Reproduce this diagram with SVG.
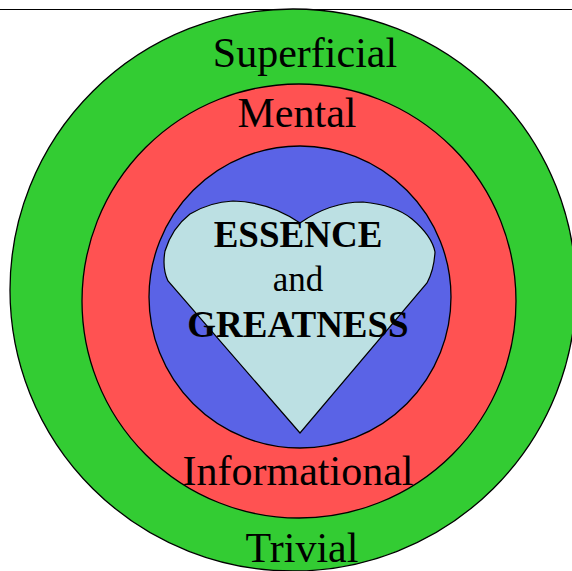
<svg xmlns="http://www.w3.org/2000/svg" width="572" height="571" viewBox="0 0 572 571">
<style>
.ring{stroke:#000;stroke-width:1.3}
.lbl{font-family:"Liberation Serif","Times New Roman",serif;font-size:42px;fill:#000;text-anchor:middle}
.core{font-family:"Liberation Serif","Times New Roman",serif;font-size:37px;fill:#000;text-anchor:middle}
.b{font-weight:bold}
</style>
<rect width="572" height="571" fill="#fff"/>
<g id="connectors">
<line x1="0" y1="9.5" x2="572" y2="9.5" stroke="#000" stroke-width="1.2"/>
</g>
<g id="superficial">
<ellipse class="ring" cx="293" cy="290" rx="283" ry="281" fill="#33cc33"/>
<text class="lbl" x="305" y="67">Superficial</text>
<text class="lbl" x="302" y="562">Trivial</text>
</g>
<g id="mental">
<circle class="ring" cx="299" cy="301" r="217" fill="#ff5252"/>
<text class="lbl" x="297" y="127">Mental</text>
<text class="lbl" x="298" y="485">Informational</text>
</g>
<g id="blue">
<circle class="ring" cx="300" cy="297" r="151" fill="#5a63e6"/>
</g>
<g id="heart">
<path d="M300,433 L168,281 Q162,268 165,251 Q172,228 190,214 Q210,202 233,201 Q270,202 300,223 Q330,202 363,202 Q395,205 412,219 Q432,236 435,252 Q434,270 427,283 Z" fill="#bce0e3" stroke="#000" stroke-width="1.2"/>
<text class="core b" x="298" y="247">ESSENCE</text>
<text class="core" x="298" y="291" style="font-size:35px">and</text>
<text class="core b" x="298" y="337">GREATNESS</text>
</g>
</svg>
